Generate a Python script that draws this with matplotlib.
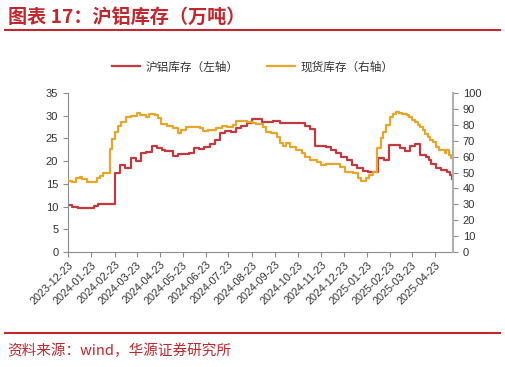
import matplotlib
matplotlib.use("Agg")
import matplotlib.pyplot as plt
from matplotlib.lines import Line2D
import pandas as pd

plt.rcParams['font.family'] = ['Liberation Sans', 'Noto Sans CJK SC', 'DejaVu Sans']

title = "图表 17：沪铝库存（万吨）"
source = "资料来源：wind，华源证券研究所"
label_left = "沪铝库存（左轴）"
label_right = "现货库存（右轴）"

red_dates = ['2023-12-23', '2023-12-28', '2024-01-05', '2024-01-26', '2024-02-01', '2024-02-23',
             '2024-03-01', '2024-03-07', '2024-03-15', '2024-03-22', '2024-03-29', '2024-04-05',
             '2024-04-12', '2024-04-19', '2024-04-26', '2024-04-30', '2024-05-10', '2024-05-17',
             '2024-05-31', '2024-06-07', '2024-06-14', '2024-06-21', '2024-06-28', '2024-07-05',
             '2024-07-12', '2024-07-19', '2024-07-26', '2024-08-02', '2024-08-09', '2024-08-16',
             '2024-08-23', '2024-08-30', '2024-09-06', '2024-09-20', '2024-09-29', '2024-10-18',
             '2024-11-01', '2024-11-08', '2024-11-15', '2024-11-29', '2024-12-06', '2024-12-13',
             '2024-12-20', '2024-12-27', '2025-01-03', '2025-01-10', '2025-01-17', '2025-01-24',
             '2025-02-07', '2025-02-14', '2025-02-21', '2025-03-07', '2025-03-14', '2025-03-21',
             '2025-03-28', '2025-04-03', '2025-04-11', '2025-04-15', '2025-04-18', '2025-04-25',
             '2025-05-01', '2025-05-09', '2025-05-13', '2025-05-16']
red_values = [10.3, 10.0, 9.7, 10.1, 10.6, 17.5,
              19.1, 18.6, 20.8, 20.0, 21.7, 22.1,
              23.3, 23.0, 22.5, 22.2, 21.2, 21.5,
              21.8, 22.8, 22.6, 23.2, 23.8, 24.6,
              26.1, 26.7, 26.5, 27.4, 27.8, 28.5,
              29.2, 29.3, 28.7, 28.9, 28.3, 28.5,
              27.8, 27.0, 23.4, 23.2, 22.4, 21.7,
              21.0, 20.2, 19.1, 18.4, 17.9, 17.7,
              20.8, 20.2, 23.5, 22.9, 22.2, 23.4,
              23.8, 21.4, 21.0, 20.3, 19.3, 18.4,
              18.1, 17.6, 16.9, 16.0]

yel_dates = ['2023-12-23', '2023-12-28', '2024-01-02', '2024-01-08', '2024-01-11', '2024-01-17',
             '2024-01-30', '2024-02-04', '2024-02-08', '2024-02-17', '2024-02-19', '2024-02-23',
             '2024-02-27', '2024-03-03', '2024-03-09', '2024-03-16', '2024-03-23', '2024-03-27',
             '2024-04-05', '2024-04-09', '2024-04-16', '2024-04-20', '2024-04-25', '2024-05-02',
             '2024-05-10', '2024-05-17', '2024-05-21', '2024-05-28', '2024-06-06', '2024-06-15',
             '2024-06-19', '2024-06-26', '2024-07-07', '2024-07-14', '2024-07-21', '2024-07-29',
             '2024-08-02', '2024-08-07', '2024-08-16', '2024-08-24', '2024-08-29', '2024-09-07',
             '2024-09-11', '2024-09-18', '2024-09-25', '2024-09-29', '2024-10-04', '2024-10-08',
             '2024-10-12', '2024-10-21', '2024-10-28', '2024-11-01', '2024-11-08', '2024-11-17',
             '2024-11-23', '2024-11-30', '2024-12-18', '2024-12-24', '2025-01-04', '2025-01-11',
             '2025-01-15', '2025-01-22', '2025-01-26', '2025-01-31', '2025-02-05', '2025-02-11',
             '2025-02-13', '2025-02-17', '2025-02-22', '2025-02-26', '2025-03-03', '2025-03-06',
             '2025-03-10', '2025-03-13', '2025-03-17', '2025-03-20', '2025-03-24', '2025-03-27',
             '2025-03-31', '2025-04-03', '2025-04-07', '2025-04-10', '2025-04-14', '2025-04-17',
             '2025-04-21', '2025-04-24', '2025-04-28', '2025-05-06', '2025-05-08', '2025-05-12',
             '2025-05-15', '2025-05-17']
yel_values = [44.8, 43.8, 46.7, 47.4, 45.9, 44.2,
              46.8, 47.8, 49.5, 64.6, 70.8, 75.6,
              79.2, 82.0, 85.1, 85.8, 87.2, 86.2,
              84.8, 86.6, 86.0, 84.0, 80.5, 79.5,
              77.8, 75.0, 76.7, 78.4, 78.8, 77.8,
              76.1, 77.0, 77.8, 79.5, 78.8, 80.0,
              82.3, 82.7, 81.9, 81.2, 80.8, 78.7,
              75.6, 75.0, 72.4, 68.3, 66.5, 68.3,
              66.2, 64.1, 62.0, 59.9, 57.8, 56.8,
              54.7, 55.3, 53.7, 50.5, 49.5, 46.4,
              44.7, 46.6, 48.7, 50.5, 65.5, 71.4,
              75.6, 79.8, 85.0, 87.0, 88.3, 87.6,
              87.1, 86.5, 86.0, 85.0, 82.9, 81.5,
              79.8, 78.5, 76.6, 74.5, 72.4, 70.5,
              69.3, 66.2, 64.1, 62.0, 64.0, 61.0,
              59.0, 59.0]

tick_dates = ['2023-12-23', '2024-01-23', '2024-02-23', '2024-03-23', '2024-04-23', '2024-05-23',
              '2024-06-23', '2024-07-23', '2024-08-23', '2024-09-23', '2024-10-23', '2024-11-23',
              '2024-12-23', '2025-01-23', '2025-02-23', '2025-03-23', '2025-04-23']
x_start, x_end = '2023-12-23', '2025-05-17'

RED = '#C23A3F'
YEL = '#E6A62A'
TITLE_RED = '#C0282E'
GREY = '#8C8C8C'
TXT = '#333333'

fig = plt.figure(figsize=(5.06, 3.67), dpi=100)
ax = fig.add_axes([68/506, 1-252/367, (453-68)/506, (252-93)/367])
ax2 = ax.twinx()

rd = pd.to_datetime(red_dates)
yd = pd.to_datetime(yel_dates)
ax.plot(rd, red_values, drawstyle='steps-post', color=RED, lw=1.6)
ax2.plot(yd, yel_values, drawstyle='steps-post', color=YEL, lw=1.6)

ax.set_xlim(pd.Timestamp(x_start), pd.Timestamp(x_end))
ax.set_ylim(0, 35)
ax2.set_ylim(0, 100)
ax.set_yticks(range(0, 36, 5))
ax2.set_yticks(range(0, 101, 10))
ax.set_xticks(pd.to_datetime(tick_dates))
ax.set_xticklabels(tick_dates, rotation=45, ha='right', va='top', rotation_mode='anchor')

for a in (ax, ax2):
    a.spines['top'].set_visible(False)
    a.spines['left'].set_color(GREY)
    a.spines['bottom'].set_color(GREY)
    a.spines['right'].set_color('#B0B0B0')
    a.tick_params(colors=GREY, labelcolor=TXT, labelsize=8, length=3.5, width=0.8)
ax.spines['right'].set_visible(False)
ax2.spines['left'].set_visible(False)
ax2.spines['bottom'].set_visible(False)
ax2.spines['right'].set_linewidth(1.5)
ax.tick_params(axis='x', labelsize=7.8, pad=2)

handles = [Line2D([0], [0], color=RED, lw=1.6), Line2D([0], [0], color=YEL, lw=1.6)]
fig.legend(handles, [label_left, label_right], loc='center', bbox_to_anchor=(0.5, 1-67/367),
           ncol=2, frameon=False, handlelength=2.4, columnspacing=2.4,
           handletextpad=0.5, labelcolor=TXT, prop={'family': ['Noto Sans CJK SC'], 'size': 8.4})

fig.text(8/506, 1-17/367, title, color=TITLE_RED, fontsize=13.8, fontweight='bold',
         family=['Noto Sans CJK SC'], ha='left', va='center')
fig.add_artist(Line2D([5/506, 500/506], [1-30/367, 1-30/367], color=TITLE_RED, lw=1.5))
fig.add_artist(Line2D([5/506, 500/506], [1-333/367, 1-333/367], color=TITLE_RED, lw=1.5))
fig.text(7/506, 1-351/367, source, color=TITLE_RED, fontsize=10.5,
         family=['Noto Sans CJK SC'], ha='left', va='center')

fig.savefig('out.png', dpi=100)
